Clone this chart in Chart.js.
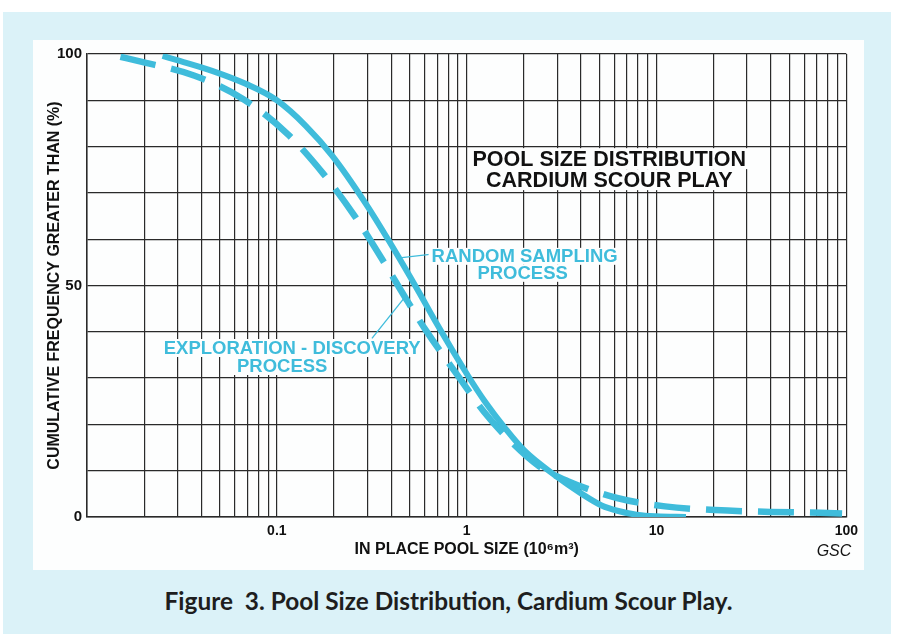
<!DOCTYPE html>
<html>
<head>
<meta charset="utf-8">
<script src="https://cdn.jsdelivr.net/npm/chart.js@4.4.0/dist/chart.umd.min.js"></script>
<style>
html, body { margin: 0; padding: 0; background: #fff; width: 897px; height: 634px; overflow: hidden; }
#bg { position: absolute; left: 3px; top: 12px; width: 888px; height: 622px; background: #dbf2f8; }
#panel { position: absolute; left: 33px; top: 40px; width: 831px; height: 530px; background: #fdfefe; }
#caption { position: absolute; left: 0; top: 586px; width: 897px; text-align: center;
  font: bold 24.4px Lato, sans-serif; color: #1e1e1e; }
</style>
</head>
<body>
<div id="bg"></div>
<div id="panel"><canvas id="poolChart" width="831" height="530"></canvas></div>
<div id="caption">Figure&nbsp;&nbsp;3. Pool Size Distribution, Cardium Scour Play.</div>

<script>
// dane (rozmiar w 10^6 m3, % wiekszych niz)
const randomX = [0.025, 0.0308, 0.046, 0.069, 0.1, 0.142, 0.196, 0.294, 0.39, 0.56, 0.69, 1.02, 1.25, 1.6, 2.03, 2.92, 4.04, 5.14, 6.3, 8.0, 10, 14.3];
const randomY = [99.6, 98.5, 96.3, 93.5, 90.0, 84.5, 78.0, 67.7, 59.6, 48.6, 42.0, 30.4, 24.9, 19.1, 14.2, 9.0, 5.0, 2.5, 1.3, 0.45, 0.15, 0.0];

const discoveryX = [0.015, 0.0185, 0.0369, 0.0663, 0.114, 0.176, 0.26, 0.376, 0.478, 0.61, 0.91, 1.23, 1.7, 2.4, 3.39, 6.2, 11.1, 20.3, 39.8, 73, 95];
const discoveryY = [99.4, 98.5, 95.3, 90.3, 82.7, 74.1, 64.7, 54.3, 47.2, 40.3, 30.2, 22.8, 16.4, 11.0, 7.8, 4.1, 2.3, 1.5, 1.1, 0.9, 0.75];

const xTickLabels = [0.1, 1, 10, 100];
const yTickLabels = [0, 50, 100];
const decades = [0.01, 0.1, 1, 10];

const lineColor = "#3fbcdb";
const gridColor = "#2a2a2a";
const fontFamily = "'Liberation Sans', Arial, sans-serif";

function toPoints(xs, ys) {
    return xs.map((x, i) => ({ x: x, y: ys[i] }));
}

// linie siatki logarytmicznej 1..9 w kazdej dekadzie
const gridValues = [];
decades.forEach(d => {
    for (let m = 1; m <= 9; m++) {
        gridValues.push(Number((m * d).toPrecision(6)));
    }
});
gridValues.push(100);

const annotations = {
    id: "annotations",
    afterDatasetsDraw(chart) {
        const c = chart.ctx;
        const xs = chart.scales.x;
        const ys = chart.scales.y;
        const area = chart.chartArea;

        function boxedText(lines, cx, cy, font, color, lh) {
            c.save();
            c.font = font;
            c.textAlign = "center";
            c.textBaseline = "middle";
            lines.forEach((t, i) => {
                const w = c.measureText(t.text).width;
                const y = cy + i * lh;
                const x = cx + (t.dx || 0);
                c.fillStyle = "#fdfefe";
                c.fillRect(x - w / 2 - 3, y - lh / 2, w + 6, lh);
            });
            lines.forEach((t, i) => {
                c.fillStyle = color;
                c.fillText(t.text, cx + (t.dx || 0), cy + i * lh + 1);
            });
            c.restore();
        }

        function leader(x1, y1, x2, y2) {
            c.save();
            c.strokeStyle = lineColor;
            c.lineWidth = 1.3;
            c.beginPath();
            c.moveTo(xs.getPixelForValue(x1), ys.getPixelForValue(y1));
            c.lineTo(xs.getPixelForValue(x2), ys.getPixelForValue(y2));
            c.stroke();
            c.restore();
        }

        // tytul
        boxedText([{ text: "POOL SIZE DISTRIBUTION" }, { text: "CARDIUM SCOUR PLAY" }],
            xs.getPixelForValue(5.64), ys.getPixelForValue(77.4),
            "bold 21.5px " + fontFamily, "#111", 21);

        // opisy krzywych
        leader(0.456, 56, 0.64, 56.7);
        boxedText([{ text: "RANDOM SAMPLING" }, { text: "PROCESS", dx: -2 }],
            xs.getPixelForValue(2.02), ys.getPixelForValue(56.3),
            "bold 18.5px " + fontFamily, lineColor, 17);

        leader(0.467, 47.2, 0.317, 38.6);
        boxedText([{ text: "EXPLORATION - DISCOVERY" }, { text: "PROCESS", dx: -10 }],
            xs.getPixelForValue(0.1205), ys.getPixelForValue(36.5),
            "bold 18.5px " + fontFamily, lineColor, 18);

        // GSC
        c.save();
        c.font = "italic 16px " + fontFamily;
        c.fillStyle = "#111";
        c.textAlign = "right";
        c.textBaseline = "middle";
        c.fillText("GSC", area.right + 5, area.bottom + 35);
        c.restore();
    }
};

const ctx = document.getElementById("poolChart").getContext("2d");

const poolChart = new Chart(ctx, {
    type: "scatter",
    data: {
        datasets: [
            {
                label: "Random sampling process",
                data: toPoints(randomX, randomY),
                showLine: true,
                borderColor: lineColor,
                borderWidth: 6,
                pointRadius: 0,
                cubicInterpolationMode: "monotone",
                borderCapStyle: "butt"
            },
            {
                label: "Exploration - discovery process",
                data: toPoints(discoveryX, discoveryY),
                showLine: true,
                borderColor: lineColor,
                borderWidth: 6.5,
                borderDash: [36, 16],
                pointRadius: 0,
                cubicInterpolationMode: "monotone",
                borderCapStyle: "butt"
            }
        ]
    },
    options: {
        responsive: false,
        animation: false,
        layout: { padding: { top: 13, right: 14, left: 0, bottom: 0 } },
        plugins: {
            legend: { display: false },
            tooltip: { enabled: false }
        },
        scales: {
            x: {
                type: "logarithmic",
                min: 0.01,
                max: 100,
                afterBuildTicks: scale => {
                    scale.ticks = gridValues.map(v => ({ value: v }));
                },
                afterFit: scale => { scale.height = 53; },
                ticks: {
                    autoSkip: false,
                    maxRotation: 0,
                    padding: 6,
                    color: "#111",
                    font: { family: fontFamily, size: 14, weight: "bold" },
                    callback: value => xTickLabels.includes(value) ? String(value) : ""
                },
                grid: { color: gridColor, lineWidth: 1.2, drawTicks: false },
                border: { color: gridColor, width: 1.5 },
                title: {
                    display: true,
                    text: "IN PLACE POOL SIZE (10⁶m³)",
                    color: "#111",
                    padding: { top: 0, bottom: 11 },
                    font: { family: fontFamily, size: 16, weight: "bold" }
                }
            },
            y: {
                min: 0,
                max: 100,
                afterFit: scale => { scale.width = 54; },
                ticks: {
                    stepSize: 10,
                    padding: 5,
                    color: "#111",
                    font: { family: fontFamily, size: 15, weight: "bold" },
                    callback: value => yTickLabels.includes(value) ? String(value) : ""
                },
                grid: { color: gridColor, lineWidth: 1.2, drawTicks: false },
                border: { color: gridColor, width: 1.5 },
                title: {
                    display: true,
                    text: "CUMULATIVE FREQUENCY GREATER THAN (%)",
                    color: "#111",
                    padding: { top: 12, bottom: 0 },
                    font: { family: fontFamily, size: 16, weight: "bold" }
                }
            }
        }
    },
    plugins: [annotations]
});
</script>
</body>
</html>
